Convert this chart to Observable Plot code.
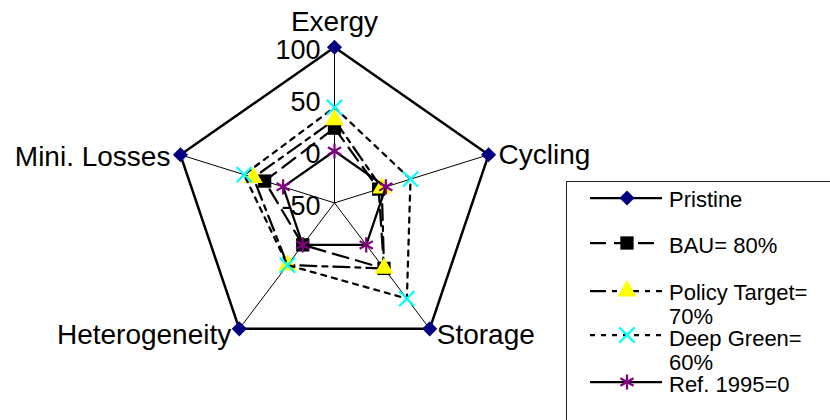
<!DOCTYPE html>
<html><head><meta charset="utf-8">
<script src="https://cdn.jsdelivr.net/npm/d3@7"></script>
<script src="https://cdn.jsdelivr.net/npm/@observablehq/plot@0.6"></script>
<style>
body{margin:0;background:#fff;}
#chart{position:relative;width:830px;height:420px;overflow:hidden;}
</style>
</head><body><div id="chart"></div>
<script>
// ---- data ----
const axes = ["Exergy", "Cycling", "Storage", "Heterogeneity", "Mini. Losses"];
const ticks = [100, 50, 0, -50];
const rDomain = [-50, 100];
const seriesNames = ["Pristine", "BAU= 80%", "Policy Target= 70%", "Deep Green= 60%", "Ref. 1995=0"];
const legendLines = [["Pristine"], ["BAU= 80%"], ["Policy Target=", "70%"], ["Deep Green=", "60%"], ["Ref. 1995=0"]];
const pristine = [100, 100, 100, 100, 100];
const bau = [22, -7, 28, 0, 18];
const policy = [30, -4, 28, 24, 29];
const deepGreen = [42, 24, 64, 24, 38];
const ref1995 = [0, 0, 0, 0, 0];

// ---- styles ----
const styles = [
  {dash: null, symbol: "diamond2", fill: "#000080", stroke: "none", r: 6.8, sw: 2.5},
  {dash: "16,8", symbol: "square", fill: "#000", stroke: "none", r: 7.5, sw: 2.25},
  {dash: "16,6,5,6", symbol: "triangle", fill: "#ffff00", stroke: "none", r: 7, sw: 2.25},
  {dash: "5,6", symbol: "times", fill: "none", stroke: "#00ffff", r: 7, sw: 2.25},
  {dash: null, symbol: "asterisk", fill: "none", stroke: "#800080", r: 7.2, sw: 2.25}
];
const allSeries = [pristine, bau, policy, deepGreen, ref1995];

const frac = v => (v - rDomain[0]) / (rDomain[1] - rDomain[0]);
const ang = i => i * 2 * Math.PI / axes.length;
const pt = (v, i) => ({axis: axes[i], value: v, x: frac(v) * Math.sin(ang(i)), y: frac(v) * Math.cos(ang(i))});

const spokes = axes.map((a, i) => ({axis: a, x2: Math.sin(ang(i)), y2: Math.cos(ang(i))}));
const font = "'Liberation Sans', Arial, sans-serif";

const labelOffsets = [
  {anchor: "middle", dx: 0, dy: -25},
  {anchor: "start", dx: 10, dy: 0},
  {anchor: "start", dx: 7, dy: 6},
  {anchor: "end", dx: -8, dy: 6},
  {anchor: "end", dx: -10, dy: 2}
];

const marks = [];
marks.push(Plot.link(spokes, {x1: 0, y1: 0, x2: "x2", y2: "y2", stroke: "#000", strokeWidth: 1}));
marks.push(Plot.text(ticks, {x: 0, y: d => frac(d), text: d => String(d), textAnchor: "end", dx: -14, dy: 3, fontSize: 27, fill: "#000"}));
axes.forEach((a, i) => {
  const o = labelOffsets[i];
  marks.push(Plot.text([spokes[i]], {x: "x2", y: "y2", text: "axis", textAnchor: o.anchor, dx: o.dx, dy: o.dy, fontSize: 28, fill: "#000"}));
});
allSeries.forEach((vals, s) => {
  const st = styles[s];
  const pts = vals.map((v, i) => pt(v, i));
  const closed = [...pts, pts[0]];
  marks.push(Plot.line(closed, {x: "x", y: "y", stroke: "#000", strokeWidth: st.sw, strokeDasharray: st.dash || undefined}));
  marks.push(Plot.dot(pts, {x: "x", y: "y", symbol: st.symbol, r: st.r, fill: st.fill, stroke: st.stroke, strokeWidth: 2.2}));
});

const cx = 334, cy = 202.4, Rx = 162, Ry = 155.7;
const svg = Plot.plot({
  width: 830, height: 420,
  x: {domain: [-1, 1], range: [cx - Rx, cx + Rx], axis: null},
  y: {domain: [-1, 1], range: [cy + Ry, cy - Ry], axis: null},
  style: {fontFamily: font, background: "#fff", overflow: "hidden"},
  marks
});
document.getElementById("chart").appendChild(svg);

// ---- legend ----
const symMap = {diamond2: d3.symbolDiamond2, square: d3.symbolSquare, triangle: d3.symbolTriangle, times: d3.symbolTimes, asterisk: d3.symbolAsterisk};
const lg = d3.select(svg).append("g").attr("font-family", font).attr("font-size", 22).attr("text-anchor", "start");
lg.append("rect").attr("x", 566.5).attr("y", 181.5).attr("width", 300).attr("height", 300)
  .attr("fill", "#fff").attr("stroke", "#222").attr("stroke-width", 1);
const rowY = [198, 243, 291, 335, 382];
const textY = [[207], [253], [300, 324], [346, 370], [392]];
seriesNames.forEach((name, s) => {
  const st = styles[s];
  const y = rowY[s];
  lg.append("line").attr("x1", 590).attr("x2", 662).attr("y1", y).attr("y2", y)
    .attr("stroke", "#000").attr("stroke-width", 2.25).attr("stroke-dasharray", st.dash);
  lg.append("path").attr("transform", `translate(627,${y})`)
    .attr("d", d3.symbol(symMap[st.symbol], st.r * st.r * Math.PI)())
    .attr("fill", st.fill).attr("stroke", st.stroke).attr("stroke-width", 2.2);
  legendLines[s].forEach((t, k) => {
    lg.append("text").attr("x", 669).attr("y", textY[s][k]).attr("text-anchor", "start").text(t).attr("fill", "#000");
  });
});
</script>
</body></html>
